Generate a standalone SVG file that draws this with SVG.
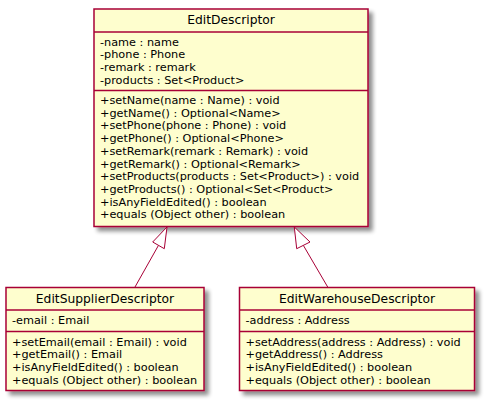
<svg xmlns="http://www.w3.org/2000/svg" width="484" height="400" viewBox="0 0 484 400">
<defs>
<filter id="sh" x="-10%" y="-10%" width="130%" height="130%">
<feGaussianBlur in="SourceAlpha" stdDeviation="2" result="b"/>
<feOffset in="b" dx="4" dy="4" result="o"/>
<feComponentTransfer in="o" result="s"><feFuncA type="linear" slope="0.45"/></feComponentTransfer>
<feMerge><feMergeNode in="s"/><feMergeNode in="SourceGraphic"/></feMerge>
</filter>
<style>
.box{fill:#FEFECE;stroke:#A80036;stroke-width:1.5}
.sep{stroke:#A80036;stroke-width:1.5}
.t{font-family:"DejaVu Sans",sans-serif;font-size:12.3px;fill:#000;text-anchor:middle}
.m{font-family:"DejaVu Sans",sans-serif;font-size:11.28px;fill:#000}
.edge{stroke:#A80036;stroke-width:1;fill:none}
.head{stroke:#A80036;stroke-width:1;fill:#FFFFFF}
</style>
</defs>
<g id="EditDescriptor">
<rect class="box" x="94" y="9" width="274" height="217.5" filter="url(#sh)"/>
<text class="t" x="231" y="24">EditDescriptor</text>
<line class="sep" x1="94" y1="32" x2="368" y2="32"/>
<text class="m" x="100" y="45.5">-name : name</text>
<text class="m" x="100" y="58.2">-phone : Phone</text>
<text class="m" x="100" y="70.9">-remark : remark</text>
<text class="m" x="100" y="83.6">-products : Set&lt;Product&gt;</text>
<line class="sep" x1="94" y1="90.5" x2="368" y2="90.5"/>
<text class="m" x="100" y="104">+setName(name : Name) : void</text>
<text class="m" x="100" y="116.7">+getName() : Optional&lt;Name&gt;</text>
<text class="m" x="100" y="129.4">+setPhone(phone : Phone) : void</text>
<text class="m" x="100" y="142.1">+getPhone() : Optional&lt;Phone&gt;</text>
<text class="m" x="100" y="154.8">+setRemark(remark : Remark) : void</text>
<text class="m" x="100" y="167.5">+getRemark() : Optional&lt;Remark&gt;</text>
<text class="m" x="100" y="180.2">+setProducts(products : Set&lt;Product&gt;) : void</text>
<text class="m" x="100" y="192.9">+getProducts() : Optional&lt;Set&lt;Product&gt;</text>
<text class="m" x="100" y="205.6">+isAnyFieldEdited() : boolean</text>
<text class="m" x="100" y="218.3">+equals (Object other) : boolean</text>
</g>
<g id="EditSupplierDescriptor">
<rect class="box" x="6" y="287.5" width="198" height="103" filter="url(#sh)"/>
<text class="t" x="105" y="303">EditSupplierDescriptor</text>
<line class="sep" x1="6" y1="310" x2="204" y2="310"/>
<text class="m" x="12" y="324.3">-email : Email</text>
<line class="sep" x1="6" y1="331.5" x2="204" y2="331.5"/>
<text class="m" x="12" y="345.5">+setEmail(email : Email) : void</text>
<text class="m" x="12" y="358.2">+getEmail() : Email</text>
<text class="m" x="12" y="370.9">+isAnyFieldEdited() : boolean</text>
<text class="m" x="12" y="383.6">+equals (Object other) : boolean</text>
</g>
<g id="EditWarehouseDescriptor">
<rect class="box" x="239.5" y="287.5" width="235" height="103" filter="url(#sh)"/>
<text class="t" x="357" y="303">EditWarehouseDescriptor</text>
<line class="sep" x1="239.5" y1="310" x2="474.5" y2="310"/>
<text class="m" x="245.5" y="324.3">-address : Address</text>
<line class="sep" x1="239.5" y1="331.5" x2="474.5" y2="331.5"/>
<text class="m" x="245.5" y="345.5">+setAddress(address : Address) : void</text>
<text class="m" x="245.5" y="358.2">+getAddress() : Address</text>
<text class="m" x="245.5" y="370.9">+isAnyFieldEdited() : boolean</text>
<text class="m" x="245.5" y="383.6">+equals (Object other) : boolean</text>
</g>
<g id="connectors">
<line class="edge" x1="135" y1="287" x2="158.5" y2="245.3"/>
<polygon class="head" points="167,227 152.7,242 164.3,248.7"/>
<line class="edge" x1="327.7" y1="287" x2="303.3" y2="245.3"/>
<polygon class="head" points="294.3,227 296.7,248.7 310,242"/>
</g>
</svg>
